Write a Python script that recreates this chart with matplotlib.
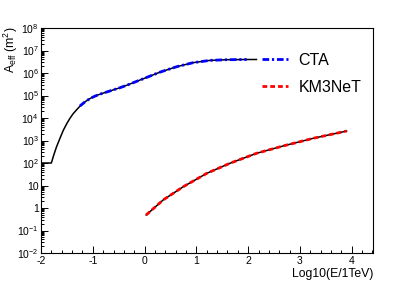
import numpy as np
import matplotlib
matplotlib.use('Agg')
import matplotlib.pyplot as plt
from matplotlib.ticker import FixedLocator, MultipleLocator, LogLocator, NullFormatter

plt.rcParams['font.family'] = ['Liberation Sans', 'DejaVu Sans']
plt.rcParams['mathtext.fontset'] = 'custom'
plt.rcParams['mathtext.rm'] = 'Liberation Sans'
plt.rcParams['mathtext.it'] = 'Liberation Sans:italic'
plt.rcParams['axes.unicode_minus'] = False

# CTA effective area (log10 E/TeV, log10 Aeff/m^2)
cta_logE = [-1.25, -1.15, -1.05, -0.95, -0.86, -0.67, -0.47, -0.35, -0.03, 0.30, 0.62, 0.94, 1.26, 1.58, 1.97]
cta_logA = [4.53, 4.72, 4.87, 4.98, 5.06, 5.20, 5.35, 5.45, 5.74, 6.04, 6.28, 6.46, 6.56, 6.59, 6.60]

# fit through CTA points
fit_logE = [-2.0, -1.8, -1.75, -1.70, -1.63, -1.57, -1.50, -1.44, -1.38, -1.31, -1.25, -1.15, -1.05,
            -0.95, -0.86, -0.67, -0.47, -0.35, -0.03, 0.30, 0.62, 0.94, 1.26, 1.58, 1.97, 2.16]
fit_logA = [2.0, 2.0, 2.38, 2.72, 3.12, 3.45, 3.76, 3.99, 4.19, 4.37, 4.52, 4.72, 4.87,
            4.98, 5.06, 5.20, 5.35, 5.45, 5.74, 6.04, 6.28, 6.46, 6.56, 6.59, 6.60, 6.60]

# KM3NeT effective area
km3_logE = [0.03, 0.36, 0.75, 1.20, 1.65, 2.16, 2.68, 3.26, 3.90]
km3_logA = [-0.31, 0.36, 0.95, 1.54, 1.99, 2.43, 2.76, 3.10, 3.42]

ytick_vals = [1e-2, 1e-1, 1, 10, 1e2, 1e3, 1e4, 1e5, 1e6, 1e7, 1e8]
ytick_labels = [r'$\mathregular{10^{-2}}$', r'$\mathregular{10^{-1}}$', '1', '10',
                r'$\mathregular{10^{2}}$', r'$\mathregular{10^{3}}$', r'$\mathregular{10^{4}}$',
                r'$\mathregular{10^{5}}$', r'$\mathregular{10^{6}}$', r'$\mathregular{10^{7}}$',
                r'$\mathregular{10^{8}}$']

fig = plt.figure(figsize=(4.15, 2.82), dpi=100)
ax = fig.add_axes([41/415, 1 - 253/282, (373-41)/415, (253-28)/282])

ax.plot(fit_logE, 10**np.array(fit_logA), color='black', lw=1.1)
ax.plot(km3_logE, 10**np.array(km3_logA), color='black', lw=1.1)
ax.plot(cta_logE, 10**np.array(cta_logA), color='blue', lw=2.0,
        linestyle=(0, (2.4, 1.0, 0.8, 1.0)), label='CTA')
ax.plot(km3_logE, 10**np.array(km3_logA), color='red', lw=2.0,
        linestyle=(0, (1.7, 1.1)), label='KM3NeT')

ax.set_yscale('log')
ax.set_xlim(-2, 4.41)
ax.set_ylim(1e-2, 1e8)

ax.xaxis.set_major_locator(MultipleLocator(1))
ax.xaxis.set_minor_locator(MultipleLocator(0.2))
ax.yaxis.set_major_locator(FixedLocator(ytick_vals))
ax.set_yticklabels(ytick_labels)
ax.yaxis.set_minor_locator(LogLocator(base=10, subs=np.arange(2, 10), numticks=20))
ax.yaxis.set_minor_formatter(NullFormatter())

ax.tick_params(which='both', direction='in', top=False, right=False, labelsize=7.5, width=0.7)
ax.tick_params(which='major', length=5)
ax.tick_params(which='minor', length=2.5)
ax.tick_params(axis='x', pad=2)
ax.tick_params(axis='y', pad=1.5)
for s in ax.spines.values():
    s.set_linewidth(0.8)

fig.text(373/415, 1 - 274/282, 'Log10(E/1TeV)', ha='right', va='center', fontsize=8.8)
fig.text(11/415, 1 - 27/282, r'$\mathregular{A_{eff}\ (m^{2})}$', rotation=90,
         ha='center', va='top', fontsize=8.8)

ax.legend(loc='center left', bbox_to_anchor=(262/415, 1 - 74/282), bbox_transform=fig.transFigure,
          frameon=False, fontsize=11.5, handlelength=1.6, handletextpad=0.7, labelspacing=0.75,
          borderpad=0, borderaxespad=0)

fig.savefig('out.png', dpi=100)
